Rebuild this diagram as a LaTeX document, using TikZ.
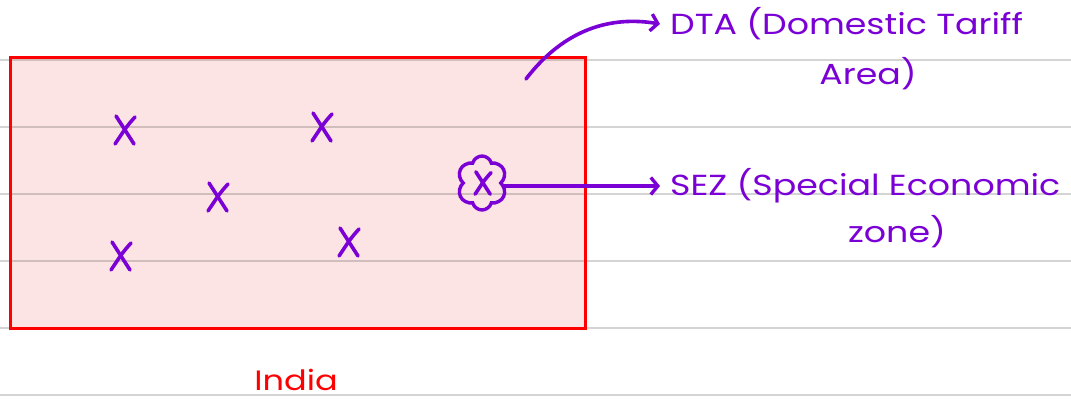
\documentclass[tikz,border=0pt]{standalone}
\usepackage{fontspec}
\setmainfont{Poppins}
\newfontfamily\handfont[FakeStretch=1.2]{Poppins}
\usetikzlibrary{arrows.meta,shapes.symbols}
\definecolor{ink}{RGB}{122,0,214}
\definecolor{redink}{RGB}{255,0,0}
\definecolor{pinkfill}{RGB}{253,228,228}
\tikzset{
  ruled/.style={draw=black,opacity=0.17,line width=1.4pt},
  region/.style={draw=redink,fill=pinkfill,line width=3pt},
  penstroke/.style={draw=ink,line width=3.6pt,line cap=round,line join=round},
  pointer/.style={penstroke,-{Straight Barb[length=7pt,width=17pt,line width=3.4pt]}},
  label/.style={text=ink,inner sep=0pt,font=\handfont\fontsize{29}{32}\selectfont},
  zonecloud/.style={cloud,cloud puffs=6,cloud puff arc=150,aspect=0.95,draw=ink,line width=3.4pt,minimum width=50pt,minimum height=54pt,inner sep=0pt}
}
\newcommand{\crossmark}[1]{%
  \draw[penstroke] ([shift={(-9,-14)}]#1) -- ([shift={(9,14)}]#1);
  \draw[penstroke] ([shift={(10,-13)}]#1) .. controls ([shift={(2,-4)}]#1) .. ([shift={(-10,14)}]#1);
}
\begin{document}
\begin{tikzpicture}[x=1pt,y=-1pt]
  \useasboundingbox (0,0) rectangle (1071,401);
  \fill[white] (0,0) rectangle (1071,401);
  % the country
  \path[region] (10,58) rectangle (585,328);
  % notebook rules
  \foreach \yy in {60,127,194,261,328,395}
    \draw[ruled] (0,\yy) -- (1071,\yy);
  \draw[draw=redink,line width=3pt] (10,58) rectangle (585,328);
  % places inside the country
  \coordinate (p1) at (125,130);
  \coordinate (p2) at (322,127);
  \coordinate (p3) at (218,197);
  \coordinate (p4) at (121,256);
  \coordinate (p5) at (349,242);
  \foreach \p in {p1,p2,p3,p4,p5} {\crossmark{\p}}
  % the special zone
  \node[zonecloud] (zone) at (482,183) {};
  \coordinate (zc) at (483,183);
  \begin{scope}[scale=0.8]
    \crossmark{zc}
  \end{scope}
  % labels
  \node[label,anchor=west] (dta) at (670,24) {DTA (Domestic Tariff};
  \node[label] (dta2) at (868,74) {Area)};
  \node[label,anchor=west] (sez) at (670,186) {SEZ (Special Economic};
  \node[label] (sez2) at (897,232) {zone)};
  \node[text=redink,inner sep=0pt,font=\handfont\fontsize{28}{30}\selectfont] (india) at (296,380) {India};
  % pointers
  \coordinate (dtafrom) at (526,79);
  \draw[pointer] (dtafrom) .. controls (565,28) and (612,16) .. ([xshift=-10]dta.west);
  \coordinate (sezto) at ([xshift=-10]sez.west);
  \draw[pointer] (zone.east |- sezto) -- (sezto);
\end{tikzpicture}
\end{document}
